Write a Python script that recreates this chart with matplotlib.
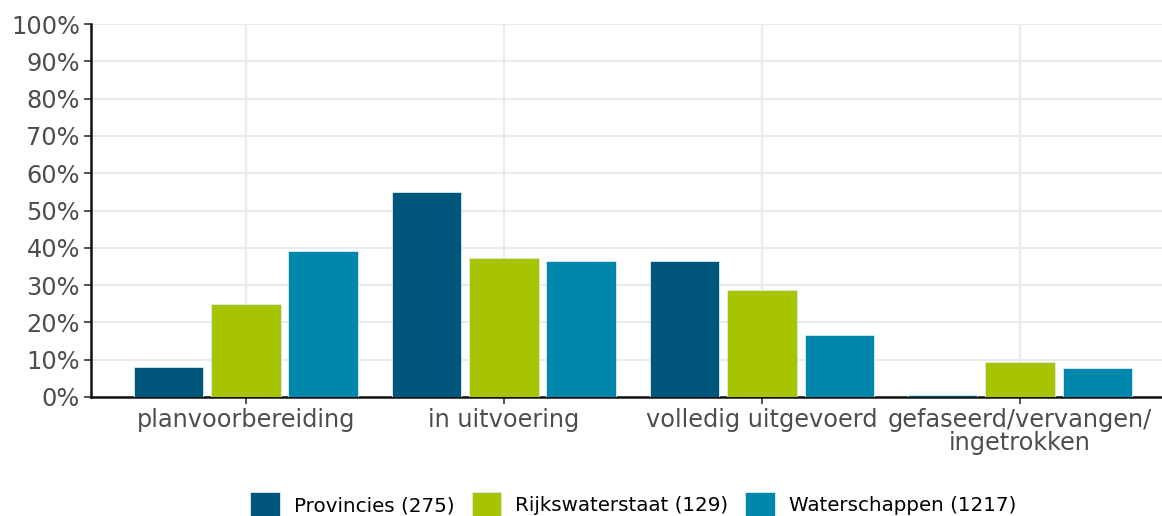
import numpy as np
import matplotlib
matplotlib.use("Agg")
import matplotlib.pyplot as plt
from matplotlib.ticker import PercentFormatter

# data (percent of projects per phase)
categories = ["planvoorbereiding", "in uitvoering", "volledig uitgevoerd", "gefaseerd/vervangen/\ningetrokken"]
series = ["Provincies (275)", "Rijkswaterstaat (129)", "Waterschappen (1217)"]
provincies = [8.0, 55.0, 36.5, 0.5]
rijkswaterstaat = [24.9, 37.3, 28.7, 9.4]
waterschappen = [39.1, 36.5, 16.6, 7.8]
bar_colors = ["#01567B", "#A8C300", "#0087AB"]

fig = plt.figure(figsize=(11.62, 5.16), dpi=100)
ax = fig.add_axes([91 / 1162, 1 - 397 / 516, 1 - 91 / 1162, (397 - 24) / 516])

x = np.arange(len(categories))
width = 0.27
offsets = [-0.3, 0.0, 0.3]
for vals, off, col, name in zip([provincies, rijkswaterstaat, waterschappen], offsets, bar_colors, series):
    ax.bar(x + off, vals, width, color=col, label=name, edgecolor="#d8ecf2", linewidth=0.6, zorder=3)

ax.set_xlim(-0.6, 3.55)
ax.set_ylim(0, 100)
ax.set_yticks(np.arange(0, 101, 10))
ax.yaxis.set_major_formatter(PercentFormatter(decimals=0))
ax.set_xticks(x)
ax.set_xticklabels(categories, linespacing=0.95)

ax.grid(True, color="#ebebeb", linewidth=1.5, zorder=0)
ax.set_axisbelow(True)
for s in ["top", "right"]:
    ax.spines[s].set_visible(False)
for s in ["left", "bottom"]:
    ax.spines[s].set_color("#111111")
    ax.spines[s].set_linewidth(1.8)
ax.tick_params(axis="both", labelsize=17.3, labelcolor="#4d4d4d", color="#333333", length=5, width=1.2)
ax.tick_params(axis="x", pad=3)
ax.tick_params(axis="y", pad=3)

fig.legend(loc="center", bbox_to_anchor=(0.545, 0.022), ncol=3, frameon=False,
           fontsize=14.3, handlelength=1.5, handleheight=1.6, columnspacing=0.85,
           handletextpad=0.7)

fig.savefig("out.png", dpi=100)
